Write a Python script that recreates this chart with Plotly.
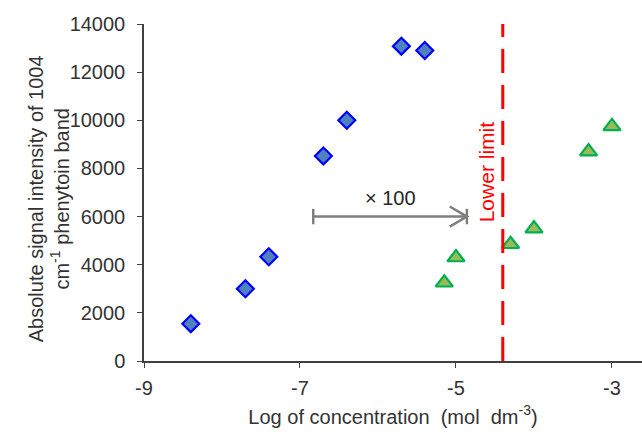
import plotly.graph_objects as go

# Data
blue_x = [-8.4, -7.7, -7.4, -6.7, -6.4, -5.7, -5.4]
blue_y = [1550, 3000, 4330, 8520, 10000, 13080, 12900]
green_x = [-5.15, -5.0, -4.3, -4.0, -3.3, -3.0]
green_y = [3250, 4300, 4850, 5500, 8700, 9750]
lower_limit_x = -4.4
arrow_x = [-6.83, -4.86]
arrow_y = 6000
x_ticks = [-9, -7, -5, -3]
y_ticks = [0, 2000, 4000, 6000, 8000, 10000, 12000, 14000]

FONT = "Liberation Sans, Arial, sans-serif"
TXT = "#333333"
GRAY = "#7f7f7f"
FS = 20

fig = go.Figure()
fig.add_trace(go.Scatter(
    x=blue_x, y=blue_y, mode="markers",
    marker=dict(symbol="diamond", size=13, color="#4f81bd",
                line=dict(color="#0000ff", width=2.2)),
    showlegend=False))
fig.add_trace(go.Scatter(
    x=green_x, y=green_y, mode="markers",
    marker=dict(symbol="triangle-up", size=15, color="#9bbb59",
                line=dict(color="#00b050", width=2.2)),
    showlegend=False))

# Lower limit dashed line
fig.add_shape(type="line", x0=lower_limit_x, x1=lower_limit_x, y0=0, y1=14000,
              xref="x", yref="y", line=dict(color="#ff0000", width=3, dash="24px,12px"))
fig.add_annotation(x=lower_limit_x, y=7850, xref="x", yref="y", text="Lower limit",
                   textangle=-90, showarrow=False, xanchor="right", xshift=-3,
                   font=dict(family=FONT, size=FS + 1, color="#ff0000"))

# x100 arrow
x0, x1 = arrow_x
hw = 0.22
hh = 420
bar = 320
fig.add_shape(type="line", x0=x0, x1=x1, y0=arrow_y, y1=arrow_y,
              line=dict(color=GRAY, width=2.5))
fig.add_shape(type="line", x0=x0, x1=x0, y0=arrow_y - bar, y1=arrow_y + bar,
              line=dict(color=GRAY, width=2.5))
fig.add_shape(type="line", x0=x1, x1=x1, y0=arrow_y - bar, y1=arrow_y + bar,
              line=dict(color=GRAY, width=2.5))
fig.add_shape(type="path",
              path=f"M {x1-hw},{arrow_y+hh} L {x1},{arrow_y} L {x1-hw},{arrow_y-hh}",
              line=dict(color=GRAY, width=2.5))
fig.add_annotation(x=(x0 + x1) / 2, y=arrow_y, xref="x", yref="y", text="× 100",
                   showarrow=False, yanchor="bottom", yshift=6,
                   font=dict(family=FONT, size=FS, color="#262626"))

# y title
fig.add_annotation(xref="paper", yref="paper", x=(49 - 144) / 498, y=0.48,
                   text="Absolute signal intensity of 1004<br>cm<sup>-1</sup> phenytoin band",
                   textangle=-90, showarrow=False, xanchor="center", yanchor="middle",
                   font=dict(family=FONT, size=FS, color=TXT))

fig.update_layout(
    width=642, height=432,
    margin=dict(l=144, r=0, t=24, b=71),
    paper_bgcolor="white", plot_bgcolor="white",
    font=dict(family=FONT, size=FS, color=TXT),
    xaxis=dict(range=[-9, -2.615], tickvals=x_ticks, ticktext=[str(v) for v in x_ticks],
               showgrid=False, zeroline=False, showline=True, linecolor="#404040",
               linewidth=1.5, ticks="outside", ticklen=5, tickcolor="#404040",
               ticklabelstandoff=3,
               tickfont=dict(family=FONT, size=FS, color=TXT),
               title=dict(text="Log of concentration  (mol  dm<sup>-3</sup>)",
                          font=dict(family=FONT, size=FS, color=TXT), standoff=12)),
    yaxis=dict(range=[0, 14000], tickvals=y_ticks, ticktext=[str(v) for v in y_ticks],
               showgrid=False, zeroline=False,
               showline=True, linecolor="#404040", linewidth=1.5, ticks="outside",
               ticklen=5, tickcolor="#404040", ticklabelstandoff=8,
               tickfont=dict(family=FONT, size=FS, color=TXT)),
)

fig.write_html("out.html")
